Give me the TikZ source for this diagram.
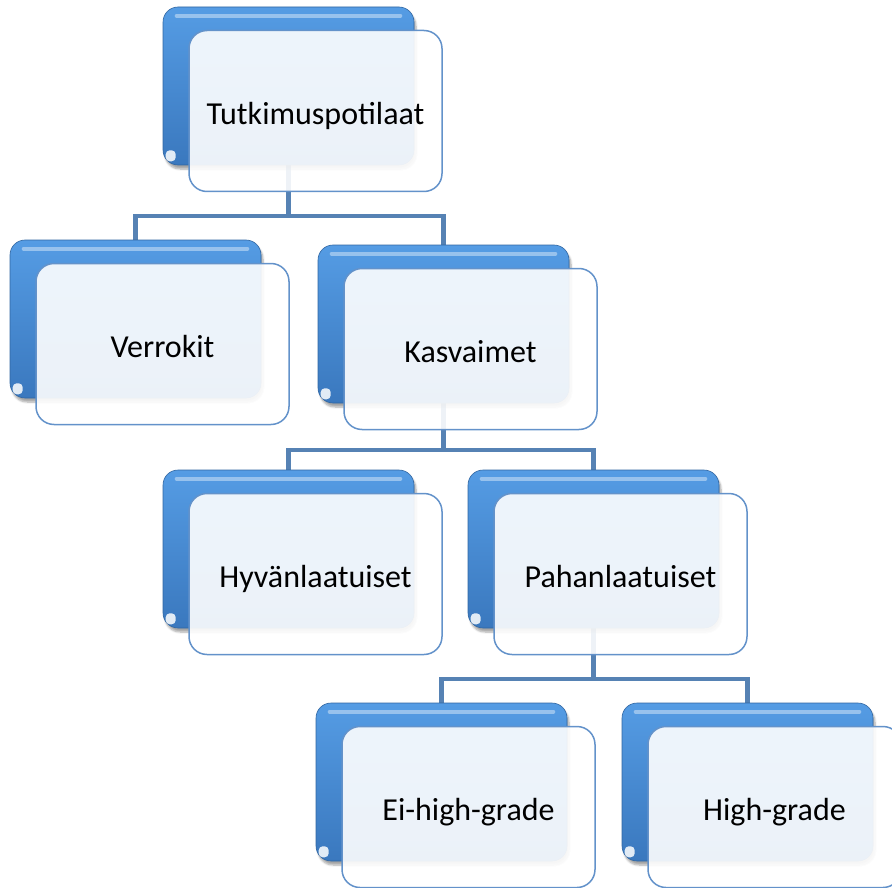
\documentclass[tikz,border=0pt]{standalone}
\usepackage{fontspec}
\setmainfont{Carlito}
\usetikzlibrary{shadows.blur,calc}
\pgfdeclarelayer{background}
\pgfsetlayers{background,main}
\definecolor{linec}{HTML}{5682B4}
\definecolor{frontline}{HTML}{6392CA}
\definecolor{btop}{HTML}{559CE4}
\definecolor{bbot}{HTML}{3A78BE}
\tikzset{
  x=1pt, y=-1pt,
  backbox/.style={rounded corners=15pt, minimum width=251pt, minimum height=158pt,
    top color=btop, bottom color=bbot, draw=bbot!85!black, line width=0.6pt,
    blur shadow={shadow xshift=2pt, shadow yshift=-4pt, shadow blur steps=6, shadow opacity=35}},
  gloss/.style={draw=white, draw opacity=0.4, line width=4pt, line cap=round},
  notch/.style={fill=white, fill opacity=0.85, draw=none},
  frontbox/.style={rounded corners=18pt, minimum width=253pt, minimum height=161pt,
    fill=white, fill opacity=0.9, text opacity=1, draw=frontline, draw opacity=1,
    line width=1.5pt, font=\fontsize{32}{38}\selectfont, text depth=0pt},
  conn/.style={draw=linec, line width=4.5pt}
}
\newcommand\orgnode[4]{%
  \node[backbox] (#1b) at (#2+125.5, #3+79) {};
  \draw[gloss] ($(#1b.north west)+(14,9)$) -- ($(#1b.north east)+(-14,9)$);
  \fill[notch, rounded corners=4pt] ($(#1b.south west)+(3,-15)$) rectangle ($(#1b.south west)+(13,-4)$);
  \node[frontbox] (#1) at ($(#1b.center)+(27,25)$) {\raisebox{-4pt}{#4}};
}
\begin{document}
\begin{tikzpicture}
\useasboundingbox (0,0) rectangle (892,888);
\orgnode{t}{163}{7}{Tutkimuspotilaat}
\orgnode{v}{10}{240}{Verrokit}
\orgnode{k}{318}{245}{Kasvaimet}
\orgnode{hy}{163}{470}{Hyvänlaatuiset}
\orgnode{p}{468}{470}{Pahanlaatuiset}
\orgnode{e}{316}{703}{Ei-high-grade}
\orgnode{hi}{622}{703}{High-grade}
\begin{pgfonlayer}{background}
  \coordinate (m1) at ($(t.south)!0.5!(vb.north)$);
  \draw[conn] (tb.center) -- (tb.center |- m1) -| (vb.north);
  \draw[conn] (tb.center |- m1) -| (kb.north);
  \coordinate (m2) at ($(k.south)!0.5!(hyb.north)$);
  \draw[conn] (kb.center) -- (kb.center |- m2) -| (hyb.north);
  \draw[conn] (kb.center |- m2) -| (pb.north);
  \coordinate (m3) at ($(p.south)!0.5!(eb.north)$);
  \draw[conn] (pb.center) -- (pb.center |- m3) -| (eb.north);
  \draw[conn] (pb.center |- m3) -| (hib.north);
\end{pgfonlayer}
\end{tikzpicture}
\end{document}
